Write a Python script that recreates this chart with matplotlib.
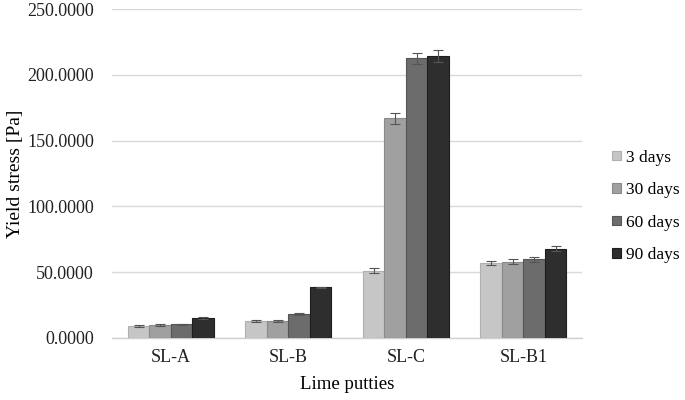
import numpy as np
import matplotlib
matplotlib.use("Agg")
import matplotlib.pyplot as plt

plt.rcParams['font.family'] = ['Liberation Serif', 'DejaVu Serif']

# data
putties = ['SL-A', 'SL-B', 'SL-C', 'SL-B1']
ages = ['3 days', '30 days', '60 days', '90 days']
days3 = [9.0, 13.2, 51.0, 56.8]
days30 = [10.0, 13.0, 167.0, 57.9]
days60 = [10.4, 18.3, 212.5, 59.7]
days90 = [15.2, 38.5, 214.5, 67.9]
err3 = [0.6, 0.7, 1.9, 1.6]
err30 = [0.6, 0.7, 4.3, 1.8]
err60 = [0.5, 0.6, 4.4, 2.2]
err90 = [0.6, 0.6, 4.5, 2.0]

colors = ['#c6c6c6', '#a0a0a0', '#6c6c6c', '#2e2e2e']
edges = ['#b0b0b0', '#8a8a8a', '#555555', '#1e1e1e']

fig = plt.figure(figsize=(6.85, 4.0), dpi=100)
ax = fig.add_axes([0.1635, 0.155, 0.6865, 0.8225])

x = np.arange(len(putties))
w = 0.183
series = [days3, days30, days60, days90]
errs = [err3, err30, err60, err90]
for i, (vals, e) in enumerate(zip(series, errs)):
    pos = x + (i - 1.5) * w
    ax.bar(pos, vals, w, color=colors[i], edgecolor=edges[i], linewidth=0.8,
           label=ages[i], zorder=3)
    ax.errorbar(pos, vals, yerr=e, fmt='none', ecolor='#555555',
                elinewidth=0.8, capsize=3.5, capthick=0.8, zorder=4)

ax.set_xlim(-0.5, 3.5)
ax.set_ylim(0, 250)
ax.set_yticks(np.arange(0, 251, 50))
ax.set_yticklabels(['%.4f' % v for v in np.arange(0, 251, 50)], fontsize=13)
ax.set_xticks(x)
ax.set_xticklabels(putties, fontsize=13)
ax.tick_params(axis='y', length=0, pad=13, colors='#222222')
ax.tick_params(axis='x', length=0, pad=8, colors='#222222')
ax.grid(axis='y', color='#d9d9d9', linewidth=1.0, zorder=0)
for s in ['top', 'right', 'left']:
    ax.spines[s].set_visible(False)
ax.spines['bottom'].set_color('#cfcfcf')
ax.spines['bottom'].set_linewidth(1.0)

ax.set_ylabel('Yield stress [Pa]', fontsize=14)
ax.yaxis.set_label_coords(-0.188, 0.5)
ax.set_xlabel('Lime putties', fontsize=13.5, labelpad=7)

ax.legend(loc='center left', bbox_to_anchor=(1.03, 0.40), frameon=False,
          fontsize=12.5, handlelength=0.5, handleheight=0.5, handletextpad=0.3,
          labelspacing=0.95)

fig.savefig('out.png', dpi=100)
